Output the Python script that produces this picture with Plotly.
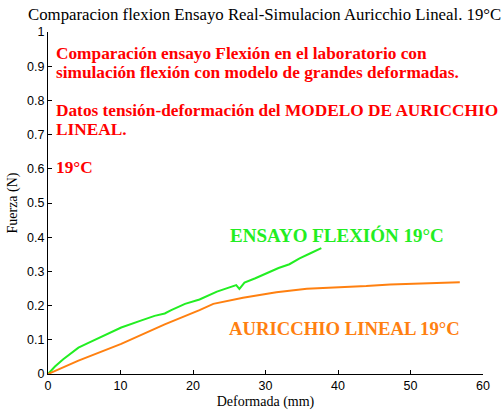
import plotly.graph_objects as go

# Data
ensayo_x = [0, 0.96, 2.1, 3.2, 4.2, 5.5, 7.4, 10.1, 12.8, 14.7, 16.1, 17.0, 18.9, 20.9, 23.3,
            25.96, 26.4, 27.1, 28.6, 30.1, 31.8, 33.3, 34.7, 36.2, 37.7]
ensayo_y = [0, 0.022, 0.043, 0.061, 0.077, 0.090, 0.109, 0.136, 0.156, 0.170, 0.177, 0.187,
            0.205, 0.218, 0.241, 0.260, 0.249, 0.267, 0.280, 0.294, 0.310, 0.321, 0.338, 0.353, 0.368]

auricchio_x = [0, 4.2, 10.1, 11.5, 16.1, 20.9, 22.8, 26.9, 31.5, 35.7, 39.4, 43.9, 47.2, 52.3, 56.8]
auricchio_y = [0, 0.039, 0.088, 0.101, 0.145, 0.187, 0.205, 0.223, 0.239, 0.249, 0.252, 0.257,
               0.262, 0.265, 0.268]

x_ticks = [0, 10, 20, 30, 40, 50, 60]
y_ticks = [0, 0.1, 0.2, 0.3, 0.4, 0.5, 0.6, 0.7, 0.8, 0.9, 1]

title_text = "Comparacion flexion Ensayo Real-Simulacion Auricchio Lineal. 19°C"
red_lines = [
    "Comparación ensayo Flexión en el laboratorio con",
    "simulación flexión con modelo de grandes deformadas.",
    "",
    "Datos tensión-deformación del MODELO DE AURICCHIO",
    "LINEAL.",
    "",
    "19°C",
]
green_label = "ENSAYO FLEXIÓN 19°C"
orange_label = "AURICCHIO LINEAL 19°C"

GREEN = "#22ee22"
ORANGE = "#ff8010"
RED = "#ff0000"
SERIF = "Liberation Serif, Times New Roman, serif"
SANS = "Liberation Sans, Arial, sans-serif"

fig = go.Figure()
fig.add_trace(go.Scatter(x=ensayo_x, y=ensayo_y, mode="lines",
                         line=dict(color=GREEN, width=2), showlegend=False))
fig.add_trace(go.Scatter(x=auricchio_x, y=auricchio_y, mode="lines",
                         line=dict(color=ORANGE, width=2), showlegend=False))

W, H = 503, 414
L, R, T, B = 48, 20, 32, 40

fig.update_layout(
    width=W, height=H,
    margin=dict(l=L, r=R, t=T, b=B),
    paper_bgcolor="white", plot_bgcolor="white",
    showlegend=False,
    xaxis=dict(range=[0, 60], tickvals=x_ticks, ticks="inside", ticklen=4,
               tickcolor="black", showline=True, linecolor="black", linewidth=1,
               showgrid=False, zeroline=False, mirror=False, automargin=False,
               tickfont=dict(family=SANS, size=12.5, color="black"),
               title=dict(text="Deformada (mm)", font=dict(family=SERIF, size=14, color="black"),
                          standoff=4)),
    yaxis=dict(range=[0, 1], tickvals=y_ticks,
               ticktext=[str(int(v)) if v in (0, 1) else str(v) for v in y_ticks],
               ticks="inside", ticklen=4,
               tickcolor="black", showline=True, linecolor="black", linewidth=1,
               showgrid=False, zeroline=False, mirror=False, automargin=False,
               tickfont=dict(family=SANS, size=12.5, color="black"),
               title=dict(text="Fuerza (N)", font=dict(family=SERIF, size=14, color="black"),
                          standoff=6)),
)


# convert pixel positions into paper coordinates
def px(xp, yp):
    return (xp - L) / (W - L - R), (H - B - yp) / (H - T - B)


annotations = []
tx, ty = px(26, 14)
annotations.append(dict(text=title_text, x=tx, y=ty, xref="paper", yref="paper",
                        showarrow=False, xanchor="left", yanchor="middle",
                        font=dict(family=SERIF, size=16.8, color="black")))

base_y = 53.5
for i, line in enumerate(red_lines):
    if not line:
        continue
    ax, ay = px(54, base_y + 19 * i)
    annotations.append(dict(text="<b>" + line + "</b>", x=ax, y=ay, xref="paper", yref="paper",
                            showarrow=False, xanchor="left", yanchor="middle",
                            font=dict(family=SERIF, size=17.3, color=RED)))

gx, gy = px(228, 235)
annotations.append(dict(text="<b>" + green_label + "</b>", x=gx, y=gy, xref="paper", yref="paper",
                        showarrow=False, xanchor="left", yanchor="middle",
                        font=dict(family=SERIF, size=19, color=GREEN)))
ox, oy = px(227, 328)
annotations.append(dict(text="<b>" + orange_label + "</b>", x=ox, y=oy, xref="paper", yref="paper",
                        showarrow=False, xanchor="left", yanchor="middle",
                        font=dict(family=SERIF, size=18.7, color=ORANGE)))

fig.update_layout(annotations=annotations)
fig.write_html("out.html")
